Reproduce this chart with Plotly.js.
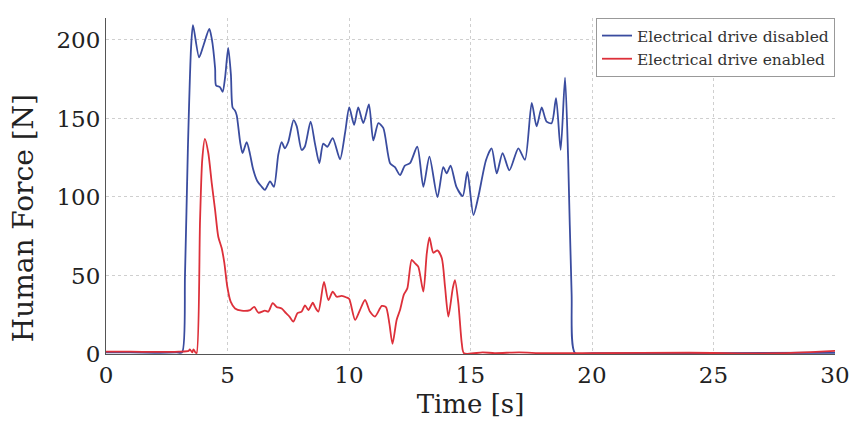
<!DOCTYPE html>
<html>
<head>
<meta charset="utf-8">
<script src="https://cdn.plot.ly/plotly-3.0.1.min.js"></script>
<style>html,body{margin:0;padding:0;background:#fff;}#chart{width:854px;height:427px;}</style>
</head>
<body>
<div id="chart"></div>
<script>
const seriesNames = ["Electrical drive disabled", "Electrical drive enabled"];
const xTickVals = [0, 5, 10, 15, 20, 25, 30];
const yTickVals = [0, 50, 100, 150, 200];
const xTitle = "Time [s]";
const yTitle = "Human Force [N]";

const timeDisabled = [0, 1, 2, 2.9, 3.13, 3.25, 3.37, 3.5, 3.58, 3.83, 4.0, 4.25, 4.35, 4.49, 4.53, 4.69, 4.8, 4.9, 5.03, 5.14, 5.21, 5.31, 5.38, 5.52, 5.62, 5.79, 5.93, 6.05, 6.23, 6.41, 6.54, 6.75, 6.91, 7.09, 7.23, 7.36, 7.5, 7.72, 7.85, 8.05, 8.18, 8.42, 8.6, 8.78, 8.94, 9.11, 9.33, 9.63, 9.84, 10.01, 10.21, 10.38, 10.59, 10.82, 11.0, 11.21, 11.41, 11.69, 11.89, 12.1, 12.3, 12.51, 12.81, 13.06, 13.31, 13.64, 13.88, 14.02, 14.18, 14.42, 14.68, 14.87, 15.12, 15.32, 15.64, 15.87, 16.08, 16.32, 16.6, 16.97, 17.24, 17.52, 17.72, 17.93, 18.13, 18.34, 18.52, 18.71, 18.89, 19.02, 19.16, 19.3, 20, 25, 30];
const forceDisabled = [1, 1, 0.8, 1, 1, 50, 131, 195, 209.5, 189, 196, 207, 201, 182, 171, 170, 167, 176, 195, 178, 157, 155, 152, 135, 128, 135, 127, 118, 110, 106.5, 104.5, 110, 106.5, 127, 135, 131, 135, 149, 145, 130, 132, 148, 134, 121.5, 134, 132, 137.5, 124, 141, 157, 146, 157, 147, 159, 136, 147, 144, 121.5, 119, 114, 120, 121.5, 132, 106.5, 125.7, 100, 119, 115, 120, 106.5, 100.6, 116, 88.5, 100, 123.6, 131, 115, 128, 117, 131, 123.6, 160, 145, 157, 148, 147, 163, 130, 176, 123.6, 39, 0.6, 0.5, 0.5, 0.8];

const timeEnabled = [0, 1, 2, 3, 3.4, 3.45, 3.55, 3.6, 3.68, 3.73, 3.87, 3.96, 4.07, 4.21, 4.35, 4.49, 4.62, 4.76, 4.87, 4.99, 5.13, 5.31, 5.58, 5.93, 6.1, 6.27, 6.54, 6.68, 6.86, 7.02, 7.23, 7.41, 7.55, 7.71, 7.88, 8.05, 8.19, 8.33, 8.51, 8.6, 8.74, 8.97, 9.15, 9.33, 9.49, 9.7, 9.9, 10.01, 10.25, 10.45, 10.66, 10.86, 11.07, 11.35, 11.52, 11.66, 11.79, 11.96, 12.1, 12.26, 12.4, 12.58, 12.72, 12.85, 13.06, 13.2, 13.31, 13.47, 13.64, 13.82, 13.95, 14.09, 14.27, 14.36, 14.5, 14.64, 14.73, 15.5, 16, 17, 18, 20, 24, 26, 28, 29, 30];
const forceEnabled = [1.5, 1.5, 1.3, 1.5, 2, 3, 1, 3, 1, 0.6, 85, 123.6, 137, 128, 109, 91.7, 74.7, 67.5, 58, 43, 33.3, 29, 27.6, 28, 30, 26.3, 27.6, 27, 32.4, 30, 29, 26, 23.8, 20.6, 26, 27, 31, 28, 32.7, 30, 27, 46, 34.4, 39.7, 36.5, 37, 36, 35, 21.7, 28, 34.4, 27, 23.8, 30.6, 29.9, 19.5, 6.4, 21.7, 28, 38, 41.8, 60, 57.7, 55.6, 39.7, 64, 74.3, 64.5, 66, 61, 43, 23.8, 41.8, 47, 32.4, 7, 0.5, 1, 0.6, 1, 0.5, 0.5, 0.8, 0.4, 0.6, 1.2, 2];

const serif = "DejaVu Serif, serif";

const traces = [
  {x: timeDisabled, y: forceDisabled, name: seriesNames[0], type: "scatter", mode: "lines",
   line: {color: "#3a4c9f", width: 1.8, shape: "spline", smoothing: 0.7}},
  {x: timeEnabled, y: forceEnabled, name: seriesNames[1], type: "scatter", mode: "lines",
   line: {color: "#dd303a", width: 1.8, shape: "spline", smoothing: 0.7}}
];

const layout = {
  width: 854, height: 427,
  margin: {l: 106, r: 19, t: 18, b: 73},
  paper_bgcolor: "#fff", plot_bgcolor: "#fff",
  showlegend: true,
  legend: {x: 1, xanchor: "right", y: 1, yanchor: "top", bgcolor: "#fff",
           bordercolor: "#999", borderwidth: 1, itemwidth: 30,
           font: {family: serif, size: 15.5, color: "#333"}},
  xaxis: {range: [0, 30], tickvals: xTickVals, showgrid: true, gridcolor: "#cfcfcf", griddash: "dot",
          zeroline: false, showline: true, linecolor: "#555", linewidth: 1,
          tickfont: {family: serif, size: 23, color: "#222"},
          title: {text: xTitle, font: {family: serif, size: 26, color: "#222"}, standoff: 8}},
  yaxis: {range: [0, 214], tickvals: yTickVals, showgrid: true, gridcolor: "#cfcfcf", griddash: "dot",
          zeroline: false, showline: true, linecolor: "#555", linewidth: 1,
          tickfont: {family: serif, size: 23, color: "#222"}},
  annotations: [
    {text: yTitle, textangle: -90, showarrow: false, xref: "paper", yref: "paper",
     x: -0.112, xanchor: "center", y: 0.405, yanchor: "middle",
     font: {family: serif, size: 28, color: "#222"}}
  ]
};

Plotly.newPlot("chart", traces, layout, {displayModeBar: false, staticPlot: true});
</script>
</body>
</html>
